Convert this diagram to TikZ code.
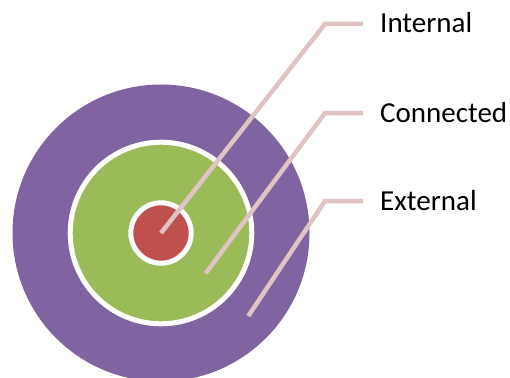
\documentclass[tikz,border=0pt]{standalone}
\usepackage{fontspec}
\setmainfont{Carlito}
\usepackage{tikz}
\usetikzlibrary{positioning}
\definecolor{outercolor}{HTML}{8064A2}
\definecolor{middlecolor}{HTML}{9BBB59}
\definecolor{innercolor}{HTML}{C0504D}
\definecolor{leadercolor}{HTML}{DFC4C3}
\tikzset{
  ring/.style={circle, inner sep=0pt, outer sep=0pt, draw=white, line width=5pt},
  leader/.style={draw=leadercolor, line width=4.5pt},
  lbl/.style={anchor=base west, inner sep=0pt, font=\fontsize{29}{34}\selectfont}
}

\begin{document}
\begin{tikzpicture}[x=1pt,y=-1pt]
\useasboundingbox (0,0) rectangle (510,377);
\clip (0,0) rectangle (510,377);
% rings
\node[ring, fill=outercolor, draw=none, minimum size=297pt] (external) at (161,233) {};
\node[ring, fill=middlecolor, minimum size=181.6pt] (connected) at (161,233) {};
\node[ring, fill=innercolor, minimum size=60.4pt] (internal) at (161,233) {};
% labels
\node[lbl] (intlabel) at (380,33) {Internal};
\node[lbl] (conlabel) at (380,122.7) {Connected};
\node[lbl] (extlabel) at (380,210) {External};
% leader lines
\coordinate (constart) at (205.7,273.3);
\coordinate (extstart) at (248.3,316);
\coordinate (intbend) at (325,24);
\coordinate (conbend) at (325,113);
\coordinate (extbend) at (325,201);
\coordinate (intend) at (363,24);
\coordinate (conend) at (363,113);
\coordinate (extend) at (363,201);
\draw[leader] (internal.center) -- (intbend) -- (intend);
\draw[leader] (constart) -- (conbend) -- (conend);
\draw[leader] (extstart) -- (extbend) -- (extend);
\end{tikzpicture}
\end{document}
